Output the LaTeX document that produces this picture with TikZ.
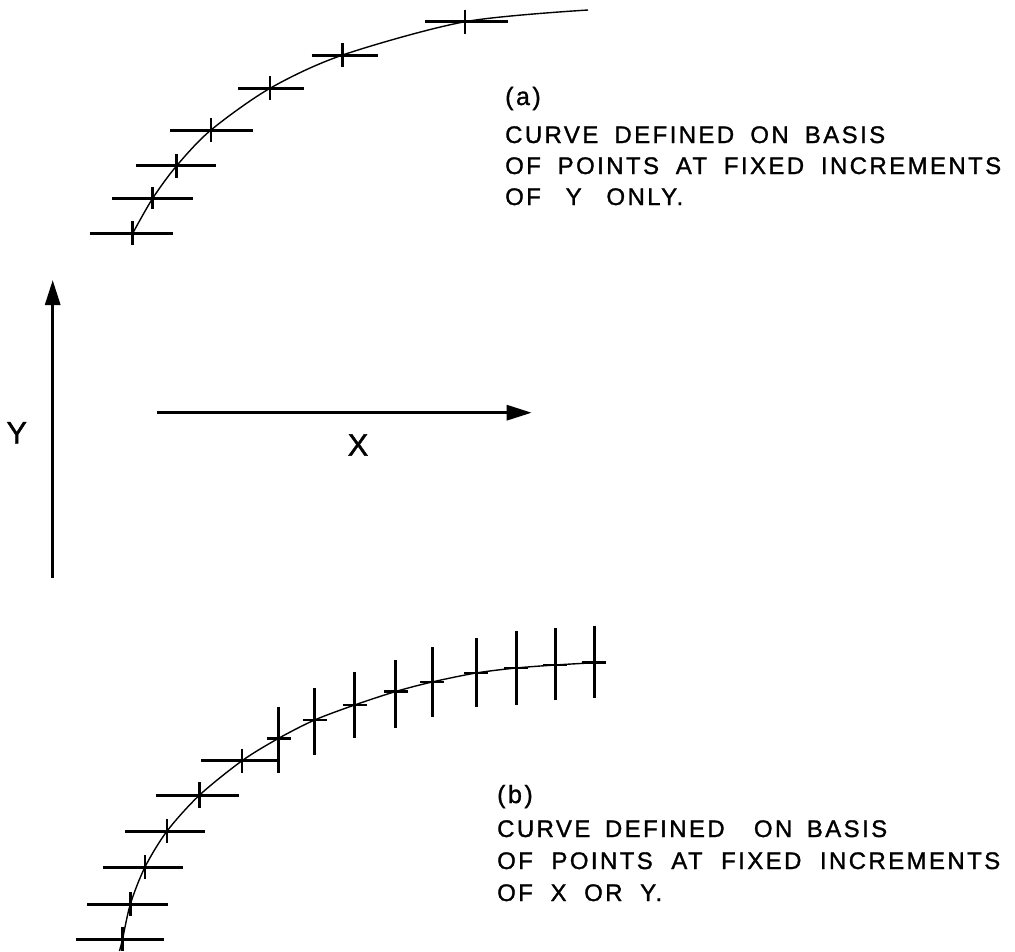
\documentclass[tikz,border=0pt]{standalone}
\usepackage{fontspec}
\setmainfont{Liberation Sans}
\newfontfamily\leroy[LetterSpace=10,FakeBold=1.2]{Liberation Sans}
\usetikzlibrary{calc,arrows.meta,positioning}
\tikzstyle{axisarrow} = [line width=3pt,-{Triangle[length=25pt,width=15pt]}]
\tikzstyle{pathline} = [line width=1.4pt]
\tikzstyle{barline} = [line width=3pt]
\tikzstyle{tickmark} = [line width=2.5pt]
\tikzstyle{textline} = [font=\leroy\fontsize{24}{28}\selectfont, inner sep=0pt, anchor=base west]
\tikzstyle{axlabel} = [font=\leroy\fontsize{31}{36}\selectfont, inner sep=0pt]
\newcommand{\HMark}[4]% #1=point, #2=left, #3=right, #4=half tick
{\draw[barline] ($(#1)+(-#2,0)$) -- ($(#1)+(#3,0)$);
 \draw[tickmark] ($(#1)+(0,-#4)$) -- ($(#1)+(0,#4)$);
}
\newcommand{\VMark}[3]% #1=point, #2=up, #3=down
{\draw[barline] ($(#1)+(0,-#2)$) -- ($(#1)+(0,#3)$);
 \draw[tickmark] ($(#1)+(-12,0)$) -- ($(#1)+(12,0)$);
}
% one caption line spread to a given width
\newcommand{\Spread}[2]{\makebox[#1][s]{#2}}

\begin{document}
\begin{tikzpicture}[x=1pt,y=-1pt]
	\useasboundingbox (0,0) rectangle (1015,951);

	%% curve (a): fixed steps of Y
	\coordinate (P1) at (132.7,233.3);
	\coordinate (P2) at (152.7,198.3);
	\coordinate (P3) at (176.7,165.7);
	\coordinate (P4) at (211,130);
	\coordinate (P5) at (270,88.3);
	\coordinate (P6) at (342.7,55);
	\coordinate (P7) at (465,21.7);
	\coordinate (PE) at (588,10);

	\draw[pathline] plot[smooth] coordinates {(P1) (P2) (P3) (P4) (P5) (P6) (P7) (PE)};
	\HMark{P1}{42.7}{40}{12}
	\HMark{P2}{40.7}{40}{11}
	\HMark{P3}{40.7}{39}{12}
	\HMark{P4}{41}{42}{12}
	\HMark{P5}{32}{34}{12}
	\HMark{P6}{31}{35}{12}
	\HMark{P7}{40}{43}{12}

	%% axes
	\coordinate (Y0) at (52.7,578);
	\coordinate (Y1) at (52.7,280);
	\coordinate (X0) at (156.7,412.7);
	\coordinate (X1) at (531.7,412.7);
	\draw[axisarrow] (Y0) -- (Y1);
	\draw[axisarrow] (X0) -- (X1);
	\node[axlabel] (ylab) at (16.7,432.7) {Y};
	\node[axlabel] (xlab) at (358,445) {X};

	%% curve (b): fixed steps of X or Y
	\coordinate (QS) at (119.5,951);
	\coordinate (Q1) at (122.5,939.3);
	\coordinate (Q2) at (130.4,904);
	\coordinate (Q3) at (145,867);
	\coordinate (Q4) at (167.1,831);
	\coordinate (Q5) at (199.3,795.3);
	\coordinate (Q6) at (242.1,760.7);
	\coordinate (Q7) at (278.6,738.3);
	\coordinate (Q8) at (314.6,720);
	\coordinate (Q9) at (354.6,705);
	\coordinate (Q10) at (395.7,691.5);
	\coordinate (Q11) at (432,682);
	\coordinate (Q12) at (476,673);
	\coordinate (Q13) at (516,668);
	\coordinate (Q14) at (555,665);
	\coordinate (Q15) at (594,662.7);
	\coordinate (QE) at (604,662);

	\draw[pathline] plot[smooth] coordinates {(QS) (Q1) (Q2) (Q3) (Q4) (Q5) (Q6) (Q7) (Q8) (Q9) (Q10) (Q11) (Q12) (Q13) (Q14) (Q15) (QE)};
	\HMark{Q1}{46.5}{41.8}{12}
	\HMark{Q2}{43.6}{37.5}{12}
	\HMark{Q3}{42.1}{37.5}{12}
	\HMark{Q4}{41.7}{37.5}{12}
	\HMark{Q5}{42.9}{40}{13}
	\HMark{Q6}{41.1}{36.5}{12}
	\VMark{Q7}{31.6}{34.4}
	\VMark{Q8}{32}{35}
	\VMark{Q9}{33}{33}
	\VMark{Q10}{32}{36}
	\VMark{Q11}{35}{35}
	\VMark{Q12}{35}{34}
	\VMark{Q13}{37}{37}
	\VMark{Q14}{37}{35}
	\VMark{Q15}{37}{35}

	%% captions
	\node[textline,font=\leroy\fontsize{25}{29}\selectfont] (capa) at (505,105) {(a)};
	\node[textline] (capa1) at (505,143) {\Spread{380pt}{CURVE DEFINED ON BASIS}};
	\node[textline] (capa2) at (505,174) {\Spread{496pt}{OF POINTS AT FIXED INCREMENTS}};
	\node[textline] (capa3) at (505,205) {\Spread{178pt}{OF Y ONLY.}};

	\node[textline,font=\leroy\fontsize{25}{29}\selectfont] (capb) at (497,803) {(b)};
	\node[textline] (capb1) at (497,837) {\Spread{390pt}{CURVE DEFINED \ ON BASIS}};
	\node[textline] (capb2) at (497,869) {\Spread{503pt}{OF POINTS AT FIXED INCREMENTS}};
	\node[textline] (capb3) at (497,901) {\Spread{165pt}{OF X OR Y.}};
\end{tikzpicture}
\end{document}
